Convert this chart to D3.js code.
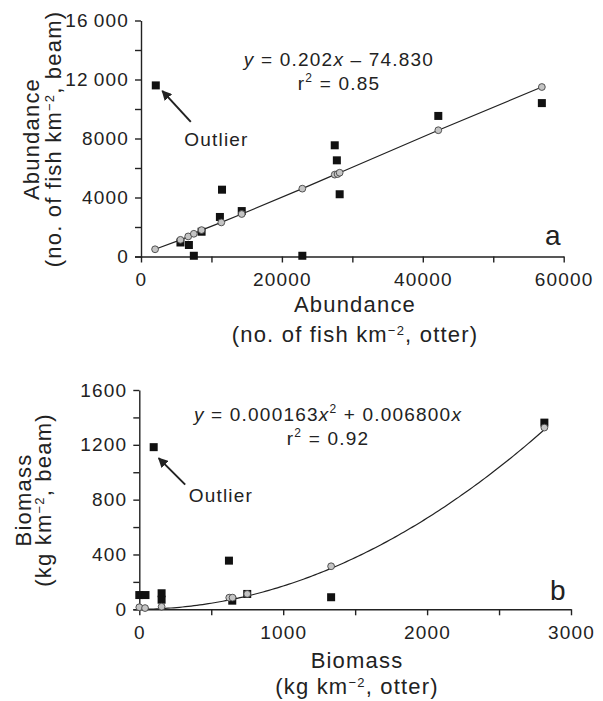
<!DOCTYPE html>
<html>
<head>
<meta charset="utf-8">
<script src="https://cdn.jsdelivr.net/npm/d3@7"></script>
<style>
  body { margin: 0; background: #fff; }
  svg text { font-family: "Liberation Sans", Arial, sans-serif; fill: #222; }
  .axis path, .axis line { stroke: #222; stroke-width: 1.4; }
  .axis text { font-size: 19px; letter-spacing: 1.2px; }
</style>
</head>
<body>
<div class="graph"></div>
<script>
// panel a: abundance (otter x, beam y)
const aOtter = [2100, 5600, 6800, 7500, 8600, 11200, 11500, 14300, 22900, 27500, 27800, 28200, 42200, 56900];
const aBeam = [11600, 950, 780, 50, 1680, 2680, 4530, 3080, 50, 7540, 6520, 4220, 9530, 10400];
const aFitX = [2000, 5600, 6700, 7500, 8600, 11400, 14300, 22900, 27500, 27900, 28200, 42200, 56900];
const aFitY = [490, 1130, 1360, 1540, 1790, 2310, 2880, 4600, 5550, 5590, 5680, 8560, 11490];
const aXTicks = [0, 10000, 20000, 30000, 40000, 50000, 60000];
const aXLabels = ['0', '', '20000', '', '40000', '', '60000'];
const aYTicks = [0, 2000, 4000, 6000, 8000, 10000, 12000, 14000, 16000];
const aYLabels = ['0', '', '4000', '', '8000', '', '12\u2009000', '', '16\u2009000'];

// panel b: biomass (otter x, beam y)
const bOtter = [0, 43, 155, 155, 100, 623, 646, 750, 1333, 2815];
const bBeam = [104, 104, 117, 70, 1183, 355, 63, 112, 88, 1362];
const bFitX = [0, 40, 155, 625, 648, 750, 1333, 2815];
const bFitY = [15, 9, 19, 85, 85, 112, 314, 1326];
const bXTicks = [0, 500, 1000, 1500, 2000, 2500, 3000];
const bXLabels = ['0', '', '1000', '', '2000', '', '3000'];
const bYTicks = [0, 200, 400, 600, 800, 1000, 1200, 1400, 1600];
const bYLabels = ['0', '', '400', '', '800', '', '1200', '', '1600'];
const bCoef = [0.000163, 0.006800];

const w = 603;
const h = 701;

const svg = d3.select('.graph')
  .append('svg')
  .attr('width', w)
  .attr('height', h);

svg.append('defs').append('marker')
  .attr('id', 'arrow')
  .attr('viewBox', '0 0 10 10')
  .attr('refX', 9)
  .attr('refY', 5)
  .attr('markerWidth', 5)
  .attr('markerHeight', 5)
  .attr('markerUnits', 'strokeWidth')
  .attr('orient', 'auto')
  .append('path')
  .attr('d', 'M0,0 L10,5 L0,10 z')
  .attr('fill', '#222');

function panel(o) {
  const x = d3.scaleLinear().domain(o.xDomain).range(o.xRange);
  const y = d3.scaleLinear().domain(o.yDomain).range(o.yRange);

  svg.append('g')
    .attr('class', 'axis')
    .attr('transform', `translate(0, ${o.yRange[0]})`)
    .call(d3.axisBottom(x)
      .tickValues(o.xTicks)
      .tickSize(6)
      .tickPadding(10)
      .tickFormat((d, i) => o.xLabels[i]));

  svg.append('g')
    .attr('class', 'axis')
    .attr('transform', `translate(${o.xRange[0]}, 0)`)
    .call(d3.axisLeft(y)
      .tickValues(o.yTicks)
      .tickSize(6)
      .tickPadding(6)
      .tickFormat((d, i) => o.yLabels[i]));

  // plain axis lines, no end caps
  svg.selectAll('.axis .domain').attr('d', function () {
    return d3.select(this).attr('d').replace(/V6|H-6/g, '').replace(/M([\d.-]+),6V/, 'M$1,0V');
  });

  const g = svg.append('g');

  g.selectAll('rect')
    .data(o.sx)
    .join('rect')
    .attr('x', (d) => x(d) - 4)
    .attr('y', (d, i) => y(o.sy[i]) - 4)
    .attr('width', 8)
    .attr('height', 8)
    .attr('fill', '#111');

  g.append('path')
    .attr('d', o.curve(x, y))
    .attr('fill', 'none')
    .attr('stroke', '#222')
    .attr('stroke-width', 1.2);

  g.selectAll('circle')
    .data(o.cx)
    .join('circle')
    .attr('cx', (d) => x(d))
    .attr('cy', (d, i) => y(o.cy[i]))
    .attr('r', 3.4)
    .attr('fill', '#c4c4c4')
    .attr('stroke', '#444')
    .attr('stroke-width', 0.9);

  // outlier arrow + label
  const ox = x(o.sx[o.outlier]);
  const oy = y(o.sy[o.outlier]);
  g.append('line')
    .attr('x1', ox + o.arrow[2])
    .attr('y1', oy + o.arrow[3])
    .attr('x2', ox + o.arrow[0])
    .attr('y2', oy + o.arrow[1])
    .attr('stroke', '#222')
    .attr('stroke-width', 2)
    .attr('marker-end', 'url(#arrow)');
  g.append('text')
    .attr('x', ox + o.arrow[4])
    .attr('y', oy + o.arrow[5])
    .style('font-size', '19px')
    .style('letter-spacing', '1.2px')
    .text('Outlier');

  // equation
  const eq = g.append('text')
    .attr('x', o.eqPos[0])
    .attr('y', o.eqPos[1])
    .attr('text-anchor', 'middle')
    .style('font-size', '19px')
    .style('letter-spacing', '1.2px');
  o.eq.forEach((p) => {
    const t = eq.append('tspan').text(p.t);
    if (p.i) t.style('font-style', 'italic');
    if (p.sup) t.attr('dy', -8).style('font-size', '12px');
    if (p.down) t.attr('dy', 8);
  });
  const r2 = g.append('text')
    .attr('x', o.eqPos[0])
    .attr('y', o.eqPos[1] + 24)
    .attr('text-anchor', 'middle')
    .style('font-size', '19px')
    .style('letter-spacing', '1.2px');
  r2.append('tspan').text('r');
  r2.append('tspan').attr('dy', -8).style('font-size', '12px').text('2');
  r2.append('tspan').attr('dy', 8).text(' = ' + o.r2);

  // panel letter
  g.append('text')
    .attr('x', o.letterPos[0])
    .attr('y', o.letterPos[1])
    .style('font-size', '28px')
    .text(o.letter);

  // x title
  const xt = svg.append('g')
    .attr('transform', `translate(${o.xTitlePos[0]}, ${o.xTitlePos[1]})`);
  xt.append('text')
    .attr('text-anchor', 'middle')
    .style('font-size', '22px')
    .style('letter-spacing', '1.2px')
    .text(o.xTitle[0]);
  titleLine(xt.append('text').attr('y', o.xTitlePos[2]), o.xTitle);

  // y title
  const yt = svg.append('g')
    .attr('transform', `translate(${o.yTitlePos[0]}, ${o.yTitlePos[1]}) rotate(-90)`);
  yt.append('text')
    .attr('text-anchor', 'middle')
    .style('font-size', '22px')
    .style('letter-spacing', '1.2px')
    .text(o.yTitle[0]);
  titleLine(yt.append('text').attr('y', o.yTitlePos[2]), o.yTitle);
}

function titleLine(t, parts) {
  t.attr('text-anchor', 'middle')
    .style('font-size', '22px')
    .style('letter-spacing', '1.2px');
  t.append('tspan').text(parts[1]);
  t.append('tspan').attr('dy', -7).style('font-size', '13px').text('\u22122');
  t.append('tspan').attr('dy', 7).text(parts[2]);
}

panel({
  xDomain: [0, 60000], xRange: [141, 563.7],
  yDomain: [0, 16000], yRange: [256.5, 20.5],
  xTicks: aXTicks, xLabels: aXLabels, yTicks: aYTicks, yLabels: aYLabels,
  sx: aOtter, sy: aBeam, cx: aFitX, cy: aFitY,
  curve: (x, y) => d3.line().x((d) => x(d)).y((d, i) => y(aFitY[i]))(aFitX),
  outlier: 0,
  arrow: [6.5, 5.5, 35, 36.5, 28.5, 60.5],
  eq: [{ t: 'y', i: true }, { t: ' = 0.202' }, { t: 'x', i: true }, { t: ' \u2013 74.830' }],
  eqPos: [339, 66], r2: '0.85',
  letter: 'a', letterPos: [545, 245],
  xTitle: ['Abundance', '(no. of fish km', ', otter)'], xTitlePos: [355, 312, 30],
  yTitle: ['Abundance', '(no. of fish km', ', beam)'], yTitlePos: [39, 139, 22]
});

panel({
  xDomain: [0, 3000], xRange: [139.3, 571],
  yDomain: [0, 1600], yRange: [609.3, 390],
  xTicks: bXTicks, xLabels: bXLabels, yTicks: bYTicks, yLabels: bYLabels,
  sx: bOtter, sy: bBeam, cx: bFitX, cy: bFitY,
  curve: (x, y) => d3.line()
    .x((d) => x(d))
    .y((d) => y(bCoef[0] * d * d + bCoef[1] * d))(d3.range(0, 2816, 20).concat([2815])),
  outlier: 4,
  arrow: [5, 11, 31.5, 37.5, 35, 54.5],
  eq: [{ t: 'y', i: true }, { t: ' = 0.000163' }, { t: 'x', i: true }, { t: '2', sup: true },
    { t: ' + 0.006800', down: true }, { t: 'x', i: true }],
  eqPos: [328, 421], r2: '0.92',
  letter: 'b', letterPos: [550, 600],
  xTitle: ['Biomass', '(kg km', ', otter)'], xTitlePos: [357, 668, 26],
  yTitle: ['Biomass', '(kg km', ', beam)'], yTitlePos: [31, 500, 20]
});
</script>
</body>
</html>
